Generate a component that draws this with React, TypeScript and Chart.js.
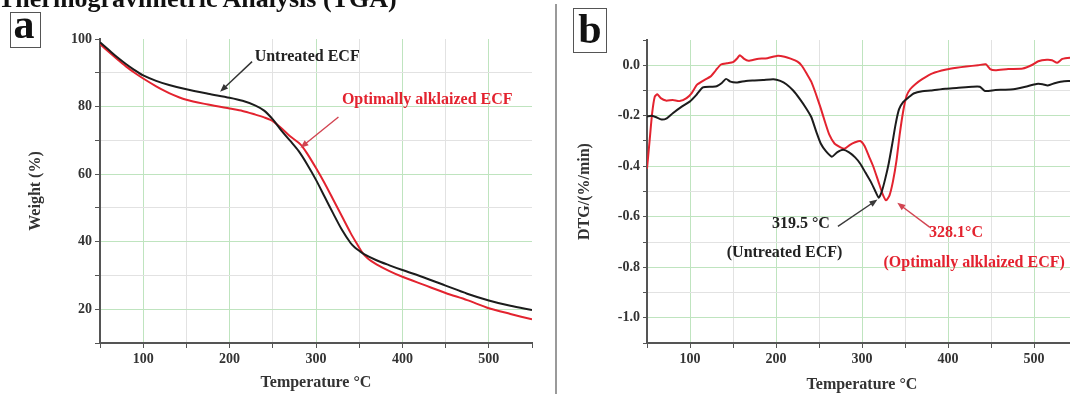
import { useEffect, useRef } from 'react';
import { Chart, registerables } from 'chart.js';
Chart.register(...registerables);

// ---------- Data: TGA (panel a) ----------
const tgaTempUntreated = [50, 60, 70, 80, 90, 100, 115, 130, 150, 175, 200, 215, 230, 240, 250, 260, 270, 280, 290, 300, 310, 320, 330, 340, 345, 350, 355, 370, 385, 400, 425, 450, 475, 500, 525, 550];
const tgaUntreated = [99.0, 96.8, 94.6, 92.6, 90.8, 89.2, 87.6, 86.4, 85.1, 83.8, 82.6, 81.7, 80.3, 78.8, 76.2, 72.9, 69.9, 66.8, 62.8, 58.3, 53.3, 48.3, 43.5, 39.6, 38.3, 37.3, 36.4, 34.5, 33.0, 31.6, 29.4, 27.0, 24.6, 22.6, 21.0, 19.8];
const tgaTempAlkalized = [50, 60, 70, 80, 90, 100, 115, 130, 150, 175, 200, 215, 230, 240, 250, 260, 270, 282, 290, 300, 310, 320, 330, 340, 347, 353, 360, 370, 385, 400, 425, 450, 475, 500, 525, 550];
const tgaAlkalized = [98.5, 96.2, 94.0, 91.9, 90.0, 88.3, 86.0, 84.0, 82.0, 80.6, 79.4, 78.7, 77.6, 76.8, 75.7, 73.6, 71.2, 68.8, 66.0, 61.8, 57.3, 52.4, 47.5, 42.6, 39.5, 37.0, 35.0, 33.3, 31.3, 29.6, 27.2, 24.8, 22.7, 20.3, 18.6, 17.0];

// ---------- Data: DTG (panel b) ----------
const dtgTempUntreated = [50, 55, 60, 67, 73, 80, 90, 100, 108, 115, 125, 131, 137, 142, 147, 155, 165, 175, 185, 197, 205, 212, 220, 228, 235, 241, 247, 252, 258, 265, 271, 278, 285, 292, 298, 304, 310, 315, 319.5, 323, 327, 331, 335, 339, 343, 348, 355, 360, 370, 380, 397, 410, 428, 437, 443, 455, 465, 476, 490, 503, 510, 516, 525, 535, 550];
const dtgUntreated = [-0.203, -0.2, -0.205, -0.215, -0.21, -0.19, -0.165, -0.143, -0.115, -0.088, -0.085, -0.083, -0.07, -0.054, -0.065, -0.068, -0.062, -0.06, -0.058, -0.055, -0.062, -0.075, -0.1, -0.135, -0.17, -0.205, -0.265, -0.31, -0.34, -0.362, -0.345, -0.335, -0.345, -0.365, -0.39, -0.425, -0.46, -0.495, -0.525, -0.5, -0.45, -0.39, -0.315, -0.235, -0.175, -0.145, -0.125, -0.112, -0.103, -0.1, -0.093, -0.09, -0.085, -0.085, -0.102, -0.098, -0.097, -0.095, -0.085, -0.074, -0.075, -0.08, -0.07, -0.063, -0.063];
const dtgTempAlkalized = [50, 53, 56, 59, 62, 66, 72, 80, 88, 96, 102, 108, 115, 124, 130, 136, 143, 150, 155, 158, 163, 168, 178, 190, 202, 210, 217, 225, 230, 236, 241, 246, 252, 257, 262, 268, 275, 280, 286, 292, 298, 303, 308, 313, 319, 324, 328.1, 332, 336, 340, 344, 348, 352, 356, 362, 370, 382, 398, 410, 421, 435, 444, 449, 455, 470, 487, 497, 505, 515, 521, 527, 533, 542, 550];
const dtgAlkalized = [-0.41, -0.3, -0.19, -0.125, -0.115, -0.13, -0.14, -0.138, -0.142, -0.13, -0.11, -0.078, -0.062, -0.044, -0.02, 0.003, 0.008, 0.012, 0.028, 0.04, 0.025, 0.018, 0.025, 0.028, 0.038, 0.034, 0.026, 0.014, -0.002, -0.035, -0.065, -0.11, -0.17, -0.225, -0.275, -0.31, -0.325, -0.33, -0.315, -0.305, -0.3, -0.32, -0.36, -0.4, -0.46, -0.51, -0.535, -0.515, -0.46, -0.38, -0.27, -0.18, -0.12, -0.095, -0.075, -0.055, -0.032, -0.017, -0.01, -0.005, 0.0, 0.004, -0.015, -0.02, -0.015, -0.013, 0.0, 0.016, 0.022, 0.02, 0.01, 0.025, 0.03, 0.03];

// ---------- Tick labels ----------
const tempTickLabels = [100, 200, 300, 400, 500];
const weightTickLabels = [20, 40, 60, 80, 100];
const dtgTickLabels = ['0.0', '-0.2', '-0.4', '-0.6', '-0.8', '-1.0'];

const SERIF = "'Liberation Serif', 'Times New Roman', serif";
const BLACK = '#1c1c1c';
const RED = '#e3232f';
const MAJOR = '#bfe4bf';
const MINOR = '#e2e2e2';
const AXIS = '#555555';

const notePlugin = {
  id: 'notes',
  afterDatasetsDraw(chart: any, _args: any, opts: any) {
    const { ctx } = chart;
    const xs = chart.scales.x;
    const ys = chart.scales.y;
    ctx.save();
    (opts.arrows || []).forEach((a: any) => {
      const x1 = xs.getPixelForValue(a.from[0]);
      const y1 = ys.getPixelForValue(a.from[1]);
      const x2 = xs.getPixelForValue(a.to[0]);
      const y2 = ys.getPixelForValue(a.to[1]);
      ctx.strokeStyle = a.color;
      ctx.fillStyle = a.color;
      ctx.lineWidth = 1.4;
      const ang = Math.atan2(y2 - y1, x2 - x1);
      const L = 8, W = 3.2;
      ctx.beginPath();
      ctx.moveTo(x1, y1);
      ctx.lineTo(x2 - L * 0.6 * Math.cos(ang), y2 - L * 0.6 * Math.sin(ang));
      ctx.stroke();
      ctx.beginPath();
      ctx.moveTo(x2, y2);
      ctx.lineTo(x2 - L * Math.cos(ang) + W * Math.sin(ang), y2 - L * Math.sin(ang) - W * Math.cos(ang));
      ctx.lineTo(x2 - L * Math.cos(ang) - W * Math.sin(ang), y2 - L * Math.sin(ang) + W * Math.cos(ang));
      ctx.closePath();
      ctx.fill();
    });
    (opts.labels || []).forEach((l: any) => {
      ctx.font = `bold 16px ${SERIF}`;
      ctx.fillStyle = l.color;
      ctx.textAlign = l.align;
      ctx.textBaseline = 'middle';
      ctx.fillText(l.text, xs.getPixelForValue(l.x), ys.getPixelForValue(l.y));
    });
    ctx.restore();
  },
};

function toPoints(xs: number[], ys: number[]) {
  return xs.map((x, i) => ({ x, y: ys[i] }));
}

function xScale(titlePadBottom: number, height: number) {
  return {
    type: 'linear',
    min: 50,
    max: 550,
    afterFit: (s: any) => { s.height = height; },
    ticks: {
      stepSize: 50,
      autoSkip: false,
      maxRotation: 0,
      padding: 3,
      color: '#333',
      font: { family: SERIF, weight: 'bold', size: 14 },
      callback: (v: any) => (tempTickLabels.includes(Number(v)) ? String(v) : ''),
    },
    grid: {
      color: (c: any) => {
        const v = c.tick ? c.tick.value : 0;
        if (v <= 50 || v >= 550) return 'rgba(0,0,0,0)';
        return v % 100 === 0 ? MAJOR : MINOR;
      },
      lineWidth: 1,
      tickLength: 5,
      tickColor: AXIS,
    },
    border: { color: AXIS, width: 2 },
    title: {
      display: true,
      text: 'Temperature °C',
      color: '#333',
      font: { family: SERIF, weight: 'bold', size: 16 },
      padding: { top: 0, bottom: titlePadBottom },
    },
  };
}

function makeLine(label: string, data: any[], color: string, tension: number) {
  return {
    label,
    data,
    borderColor: color,
    backgroundColor: color,
    borderWidth: 2,
    pointRadius: 0,
    tension,
    fill: false,
  };
}

function TgaChart() {
  const ref = useRef<HTMLCanvasElement>(null);
  useEffect(() => {
    const chart = new Chart(ref.current as HTMLCanvasElement, {
      type: 'line',
      data: {
        datasets: [
          makeLine('Untreated ECF', toPoints(tgaTempUntreated, tgaUntreated), BLACK, 0.3),
          makeLine('Optimally alklaized ECF', toPoints(tgaTempAlkalized, tgaAlkalized), RED, 0.3),
        ],
      },
      options: {
        responsive: false,
        animation: false,
        layout: { padding: { top: 39, right: 13, left: 0, bottom: 0 } },
        scales: {
          x: xScale(1.5, 51) as any,
          y: {
            type: 'linear',
            min: 10,
            max: 100,
            afterFit: (s: any) => { s.width = 100; },
            ticks: {
              stepSize: 10,
              autoSkip: false,
              padding: 3,
              color: '#333',
              font: { family: SERIF, weight: 'bold', size: 14 },
              callback: (v: any) => (weightTickLabels.includes(Number(v)) ? String(v) : ''),
            },
            grid: {
              color: (c: any) => {
                const v = c.tick ? c.tick.value : 0;
                if (v <= 10 || v >= 100) return 'rgba(0,0,0,0)';
                return v % 20 === 0 ? MAJOR : MINOR;
              },
              tickLength: 5,
              tickColor: AXIS,
            },
            border: { color: AXIS, width: 2 },
            title: {
              display: true,
              text: 'Weight (%)',
              color: '#333',
              font: { family: SERIF, weight: 'bold', size: 16 },
              padding: { top: 26, bottom: 0 },
            },
          },
        },
        plugins: {
          legend: { display: false },
          tooltip: { enabled: false },
          notes: {
            arrows: [
              { from: [226, 93.3], to: [189, 84.4], color: '#333' },
              { from: [326, 76.9], to: [282, 67.8], color: '#d24451' },
            ],
            labels: [
              { text: 'Untreated ECF', x: 229, y: 94.7, color: '#222', align: 'left' },
              { text: 'Optimally alklaized ECF', x: 330, y: 82, color: RED, align: 'left' },
            ],
          },
        } as any,
      },
      plugins: [notePlugin as any],
    });
    return () => chart.destroy();
  }, []);
  return <canvas ref={ref} width={545} height={394} style={{ position: 'absolute', left: 0, top: 0, width: 545, height: 394 }} />;
}

function DtgChart() {
  const ref = useRef<HTMLCanvasElement>(null);
  useEffect(() => {
    const chart = new Chart(ref.current as HTMLCanvasElement, {
      type: 'line',
      data: {
        datasets: [
          makeLine('Untreated ECF', toPoints(dtgTempUntreated, dtgUntreated), BLACK, 0.2),
          makeLine('Optimally alklaized ECF', toPoints(dtgTempAlkalized, dtgAlkalized), RED, 0.2),
        ],
      },
      options: {
        responsive: false,
        animation: false,
        layout: { padding: { top: 40, right: 13, left: 0, bottom: 0 } },
        scales: {
          x: xScale(0, 51) as any,
          y: {
            type: 'linear',
            min: -1.1,
            max: 0.1,
            afterFit: (s: any) => { s.width = 87; },
            ticks: {
              stepSize: 0.1,
              autoSkip: false,
              padding: 3,
              color: '#333',
              font: { family: SERIF, weight: 'bold', size: 14 },
              callback: (v: any) => {
                const k = Math.round(Number(v) * 10);
                const s = (k / 10).toFixed(1);
                return dtgTickLabels.includes(s) ? s : '';
              },
            },
            grid: {
              color: (c: any) => {
                const k = c.tick ? Math.round(c.tick.value * 10) : 0;
                if (k <= -11 || k >= 1) return 'rgba(0,0,0,0)';
                return k % 2 === 0 ? MAJOR : MINOR;
              },
              tickLength: 4,
              tickColor: AXIS,
            },
            border: { color: AXIS, width: 2 },
            title: {
              display: true,
              text: 'DTG/(%/min)',
              color: '#333',
              font: { family: SERIF, weight: 'bold', size: 16 },
              padding: { top: 15, bottom: 0 },
            },
          },
        },
        plugins: {
          legend: { display: false },
          tooltip: { enabled: false },
          notes: {
            arrows: [
              { from: [272, -0.638], to: [318, -0.532], color: '#3a3a3a' },
              { from: [379, -0.642], to: [341, -0.545], color: '#d24451' },
            ],
            labels: [
              { text: '319.5 °C', x: 229, y: -0.63, color: '#222', align: 'center' },
              { text: '(Untreated ECF)', x: 210, y: -0.744, color: '#222', align: 'center' },
              { text: '328.1°C', x: 378, y: -0.665, color: RED, align: 'left' },
              { text: '(Optimally alklaized ECF)', x: 325, y: -0.783, color: RED, align: 'left' },
            ],
          },
        } as any,
      },
      plugins: [notePlugin as any],
    });
    return () => chart.destroy();
  }, []);
  return <canvas ref={ref} width={530} height={394} style={{ position: 'absolute', left: 560, top: 0, width: 530, height: 394 }} />;
}

export default function App() {
  const boxStyle: any = {
    position: 'absolute',
    boxSizing: 'border-box',
    border: '1.5px solid #555',
    background: '#fff',
  };
  const letterStyle: any = {
    position: 'absolute',
    fontFamily: SERIF,
    fontWeight: 'bold',
    fontSize: 42,
    lineHeight: '42px',
    color: '#111',
    textAlign: 'center',
    width: 40,
  };
  return (
    <div style={{ position: 'fixed', left: 0, top: 0, width: 1070, height: 394, overflow: 'hidden', background: '#fff' }}>
      <TgaChart />
      <DtgChart />
      <div style={{ position: 'absolute', left: -2, top: -14, fontFamily: SERIF, fontWeight: 'bold', fontSize: 26, lineHeight: '26px', whiteSpace: 'nowrap', color: '#111' }}>
        Thermogravimetric Analysis (TGA)
      </div>
      <div style={{ ...boxStyle, left: 10, top: 12, width: 31, height: 36 }} />
      <div style={{ ...letterStyle, left: 4, top: 3 }}>a</div>
      <div style={{ position: 'absolute', left: 555, top: 4, width: 2, height: 390, background: '#9a9a9a' }} />
      <div style={{ ...boxStyle, left: 573, top: 8, width: 34, height: 45 }} />
      <div style={{ ...letterStyle, left: 570, top: 8 }}>b</div>
    </div>
  );
}
